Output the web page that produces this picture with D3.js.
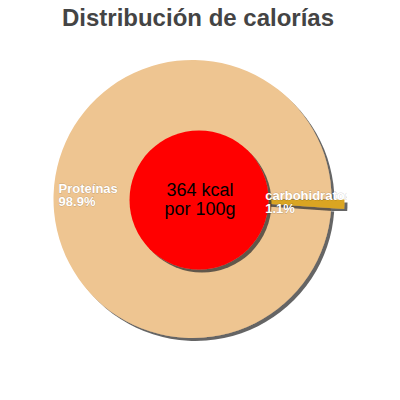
<!DOCTYPE html>
<html><head><meta charset="utf-8">
<script src="https://cdn.jsdelivr.net/npm/d3@7"></script>
<style>body{margin:0;background:#fff}svg{display:block}text{font-family:"Liberation Sans",Arial,sans-serif}</style>
</head><body>
<svg id="chart" width="400" height="400"></svg>
<script>
const title = "Distribución de calorías";
const categories = ["carbohidratos", "Proteínas"];
const values = [1.1, 98.9];
const centerLines = ["364 kcal", "por 100g"];
const sliced = [true, false];

const svg = d3.select("#chart");
const W = 400, H = 400;
const cx = 192.5, cy = 199, R = 139;
const holeCx = 199, holeCy = 200, holeR = 69.5;
const slicedOffset = 13;

const color = d3.scaleOrdinal().domain(categories).range(["#DAA520", "#EEC591"]);

const defs = svg.append("defs");
const f = defs.append("filter").attr("id", "shadow").attr("x", "-20%").attr("y", "-20%").attr("width", "140%").attr("height", "140%");
f.append("feDropShadow").attr("dx", 3).attr("dy", 3).attr("stdDeviation", 0.6)
  .attr("flood-color", "#333").attr("flood-opacity", 0.75);
defs.append("clipPath").attr("id", "clip").append("rect")
  .attr("x", 0).attr("y", 0).attr("width", 347).attr("height", H);

svg.append("rect").attr("width", W).attr("height", H).attr("fill", "#fff");

svg.append("text").attr("x", 198).attr("y", 26).attr("text-anchor", "middle")
  .attr("font-size", 24).attr("font-weight", "bold").attr("fill", "#444").text(title);

const data = categories.map((c, i) => ({ name: c, value: values[i], sliced: sliced[i] }));
const pie = d3.pie().value(d => d.value).sort(null)
  .startAngle(Math.PI / 2).endAngle(Math.PI / 2 + 2 * Math.PI);
const arcs = pie(data);
const arc = d3.arc().innerRadius(0).outerRadius(R);

function offsetOf(a) {
  const mid = (a.startAngle + a.endAngle) / 2;
  const o = a.data.sliced ? slicedOffset : 0;
  return [Math.sin(mid) * o, -Math.cos(mid) * o];
}

const g = svg.append("g").attr("transform", `translate(${cx},${cy})`);
const order = arcs.slice().sort((a, b) => (a.data.sliced ? 1 : 0) - (b.data.sliced ? 1 : 0));
g.selectAll("path.slice").data(order).join("path")
  .attr("class", "slice")
  .attr("d", arc)
  .attr("transform", d => { const [x, y] = offsetOf(d); return `translate(${x},${y})`; })
  .attr("fill", d => color(d.data.name))
  .attr("filter", "url(#shadow)");

svg.append("circle").attr("cx", holeCx).attr("cy", holeCy).attr("r", holeR)
  .attr("fill", "#FF0000").attr("filter", "url(#shadow)");

const ct = svg.append("text").attr("text-anchor", "middle").attr("font-size", 18).attr("fill", "#000");
centerLines.forEach((t, i) => ct.append("tspan").attr("x", 200).attr("y", 196 + i * 19).text(t));

const lg = svg.append("g").attr("clip-path", "url(#clip)");
arcs.forEach(a => {
  const mid = (a.startAngle + a.endAngle) / 2;
  const [ox, oy] = offsetOf(a);
  const left = Math.sin(mid) < 0;
  const lr = left ? R - 5 : R * 0.43;
  const px = cx + ox + Math.sin(mid) * lr;
  const py = cy + oy - Math.cos(mid) * lr;
  const t = lg.append("text").attr("font-size", 13).attr("font-weight", "bold")
    .attr("fill", "#fff").attr("stroke", "rgba(0,0,0,0.2)").attr("stroke-width", 0.8)
    .attr("paint-order", "stroke").attr("text-anchor", "start");
  const pct = d3.format(".1f")(a.data.value) + "%";
  t.append("tspan").attr("x", px).attr("y", py - 1.5).text(a.data.name);
  t.append("tspan").attr("x", px).attr("y", py + 11.5).text(pct);
});
</script>
</body></html>
